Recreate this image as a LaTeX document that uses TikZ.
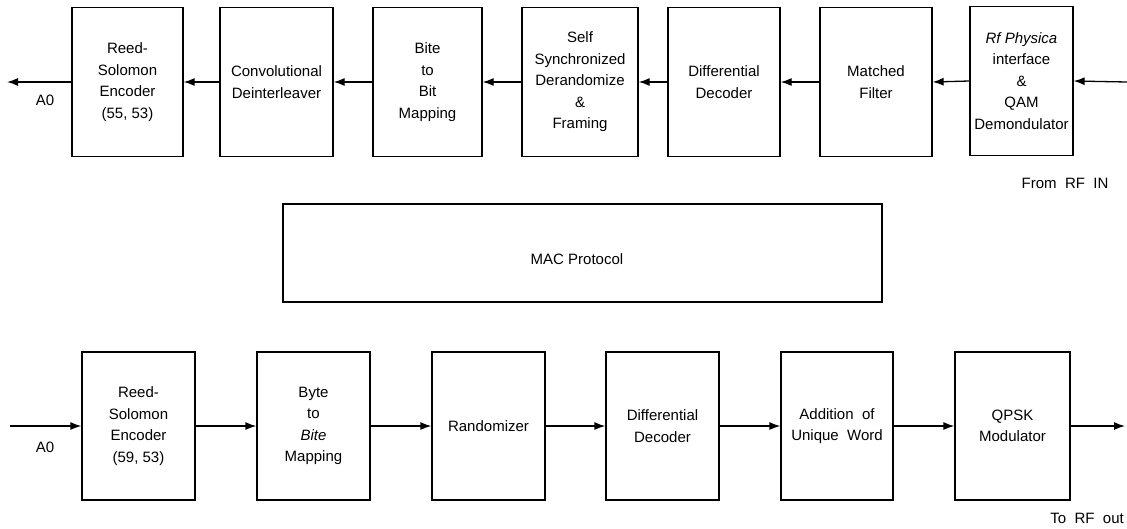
\documentclass[tikz,border=0pt]{standalone}
\usepackage{fontspec}
\setmainfont{Liberation Sans}
\usetikzlibrary{arrows.meta}
\tikzset{
  blk/.style={draw, line width=1.3pt, align=center, inner sep=0pt,
    minimum height=149pt, font=\fontsize{15}{21.5}\selectfont},
  conn/.style={line width=1.3pt, -{Latex[length=11pt,width=8pt]}},
  lbl/.style={inner sep=0pt, font=\fontsize{15}{21.5}\selectfont}
}
\begin{document}
\begin{tikzpicture}[x=1pt,y=-1pt]
\useasboundingbox (0,0) rectangle (1127,528);
% top row
\node[blk, minimum width=111pt] (a1) at (127.5,82) {Reed-\\Solomon\\Encoder\\(55, 53)};
\node[blk, minimum width=113pt] (a2) at (276.5,82) {Convolutional\\Deinterleaver};
\node[blk, minimum width=109pt] (a3) at (427.5,82) {Bite\\to\\Bit\\Mapping};
\node[blk, minimum width=116pt] (a4) at (580,82) {Self\\Synchronized\\Derandomize\\\&\\Framing};
\node[blk, minimum width=112pt] (a5) at (724,82) {Differential\\Decoder};
\node[blk, minimum width=112pt] (a6) at (876,82) {Matched\\Filter};
\node[blk, minimum width=103pt] (a7) at (1021.5,81) {\textit{Rf Physica}\\interface\\\&\\QAM\\Demondulator};
\coordinate (tin) at (1127,82);
\coordinate (tout) at (7,82);
\draw[conn] (tin) -- (a7.east);
\draw[conn] (a7.west) -- (a6.east);
\draw[conn] (a6.west) -- (a5.east);
\draw[conn] (a5.west) -- (a4.east);
\draw[conn] (a4.west) -- (a3.east);
\draw[conn] (a3.west) -- (a2.east);
\draw[conn] (a2.west) -- (a1.east);
\draw[conn] (a1.west) -- (tout);
\node[lbl] (la0) at (45,100) {A0};
\node[lbl] (lrfin) at (1065,183) {From\ \ RF\ \ IN};
% MAC
\node[blk, minimum width=599pt, minimum height=98pt] (mac) at (582.5,253) {};
\node[lbl] (mactxt) at (577,259) {MAC Protocol};
% bottom row
\node[blk, minimum width=113pt, minimum height=148pt] (b1) at (138.5,426) {Reed-\\Solomon\\Encoder\\(59, 53)};
\node[blk, minimum width=113pt, minimum height=148pt] (b2) at (313.5,426) {Byte\\to\\\textit{Bite}\\Mapping};
\node[blk, minimum width=113pt, minimum height=148pt] (b3) at (488.5,426) {Randomizer};
\node[blk, minimum width=113pt, minimum height=148pt] (b4) at (662.5,426) {Differential\\Decoder};
\node[blk, minimum width=112pt, minimum height=148pt] (b5) at (837,426) {Addition\ \ of\\Unique\ \ Word};
\node[blk, minimum width=115pt, minimum height=148pt] (b6) at (1012.5,426) {QPSK\\Modulator};
\coordinate (bin) at (10,426);
\coordinate (bout) at (1125,426);
\draw[conn] (bin) -- (b1.west);
\draw[conn] (b1.east) -- (b2.west);
\draw[conn] (b2.east) -- (b3.west);
\draw[conn] (b3.east) -- (b4.west);
\draw[conn] (b4.east) -- (b5.west);
\draw[conn] (b5.east) -- (b6.west);
\draw[conn] (b6.east) -- (bout);
\node[lbl] (lb0) at (45,447) {A0};
\node[lbl, anchor=east] (lrfout) at (1124,518) {To\ \ RF\ \ out};
\end{tikzpicture}
\end{document}
